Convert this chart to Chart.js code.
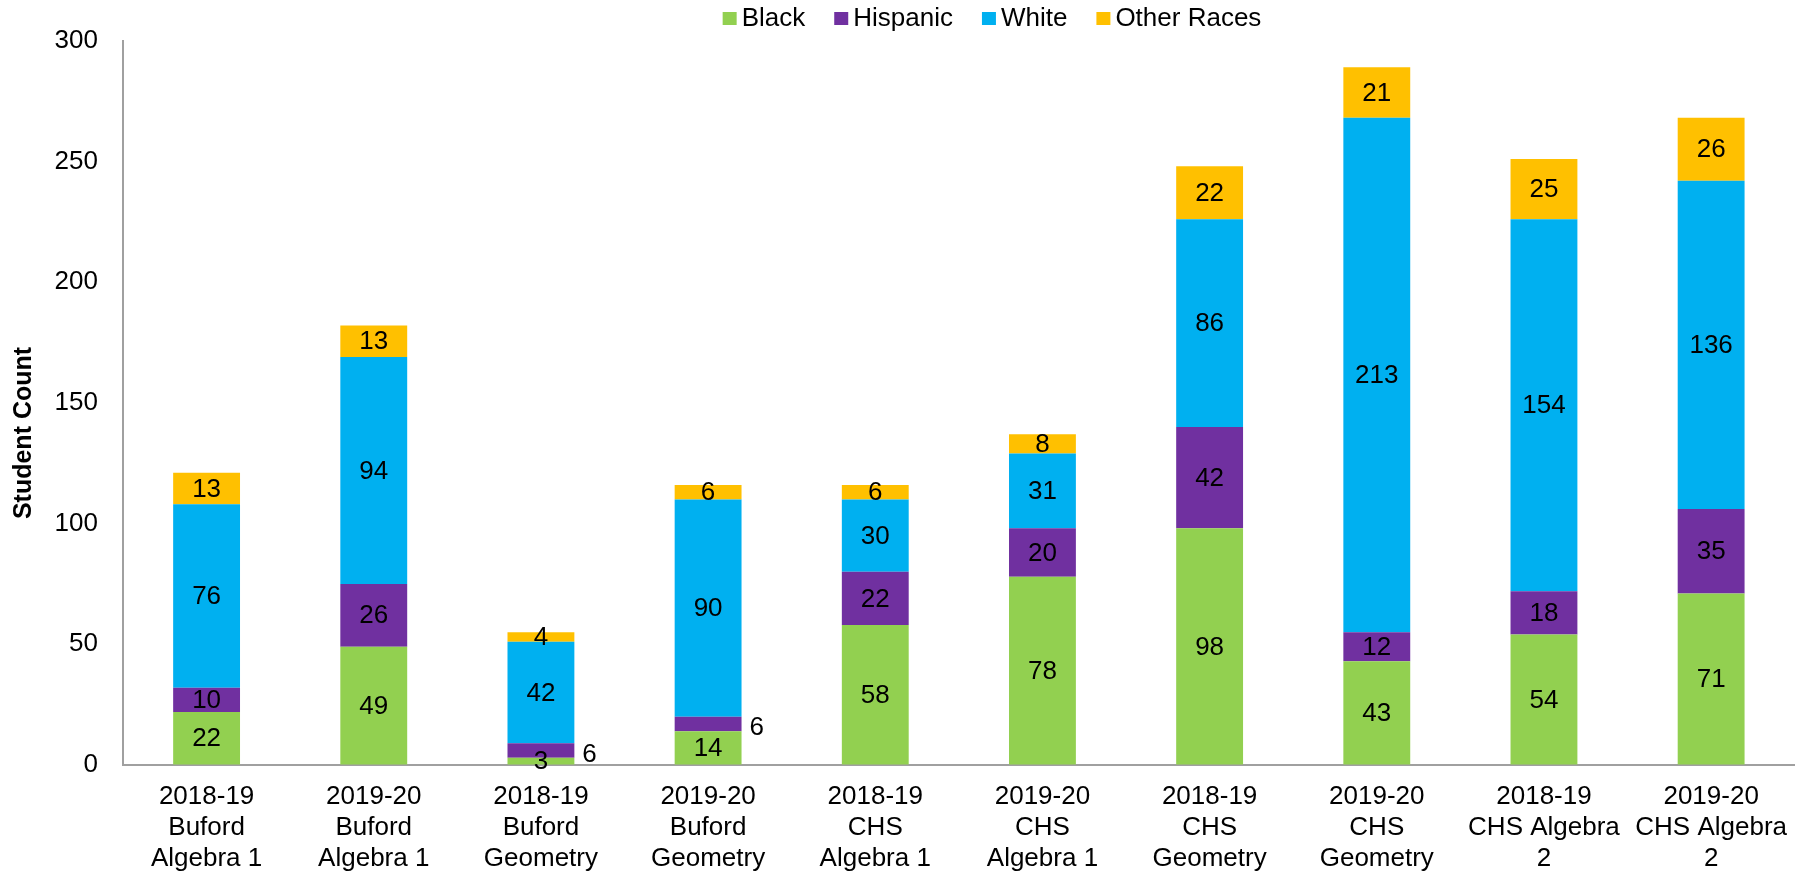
<!DOCTYPE html>
<html>
<head>
<meta charset="utf-8">
<title>Student Count</title>
<script src="https://cdn.jsdelivr.net/npm/chart.js@4.4.1/dist/chart.umd.min.js"></script>
<style>
  html, body { margin: 0; padding: 0; background: #fff; }
  #wrap { width: 1803px; height: 872px; }
</style>
</head>
<body>
<div id="wrap"><canvas id="chart" width="1803" height="872"></canvas></div>
<script>
var categories = [
  ["2018-19", "Buford", "Algebra 1"],
  ["2019-20", "Buford", "Algebra 1"],
  ["2018-19", "Buford", "Geometry"],
  ["2019-20", "Buford", "Geometry"],
  ["2018-19", "CHS", "Algebra 1"],
  ["2019-20", "CHS", "Algebra 1"],
  ["2018-19", "CHS", "Geometry"],
  ["2019-20", "CHS", "Geometry"],
  ["2018-19", "CHS Algebra", "2"],
  ["2019-20", "CHS Algebra", "2"]
];
var black    = [22, 49, 3, 14, 58, 78, 98, 43, 54, 71];
var hispanic = [10, 26, 6, 6, 22, 20, 42, 12, 18, 35];
var white    = [76, 94, 42, 90, 30, 31, 86, 213, 154, 136];
var other    = [13, 13, 4, 6, 6, 8, 22, 21, 25, 26];
var yMax = 300;
var yStep = 50;

var FONT = "'Liberation Sans', Arial, sans-serif";

// numbers inside each stacked segment (tiny Hispanic ones go beside the bar)
var segmentLabels = {
  id: "segmentLabels",
  afterDatasetsDraw: function(chart) {
    var ctx = chart.ctx;
    ctx.save();
    ctx.font = "26px " + FONT;
    ctx.fillStyle = "#000";
    ctx.textBaseline = "middle";
    chart.data.datasets.forEach(function(ds, i) {
      var meta = chart.getDatasetMeta(i);
      meta.data.forEach(function(bar, j) {
        var v = ds.data[j];
        var p = bar.getProps(["x", "y", "base", "width"], true);
        var cy = (p.y + p.base) / 2;
        if (ds.label === "Hispanic" && v < 10) {
          ctx.textAlign = "left";
          ctx.fillText(String(v), p.x + p.width / 2 + 8, cy + 4);
        } else {
          ctx.textAlign = "center";
          ctx.fillText(String(v), p.x, cy + 1);
        }
      });
    });
    ctx.restore();
  }
};

// legend row along the top plus the rotated axis title
var decorations = {
  id: "decorations",
  afterDraw: function(chart) {
    var ctx = chart.ctx;
    var ds = chart.data.datasets;
    ctx.save();
    ctx.font = "26px " + FONT;
    ctx.textBaseline = "middle";
    ctx.textAlign = "left";
    var box = 14, gap = 5, spacing = 29;
    var total = 0;
    ds.forEach(function(d, i) {
      total += box + gap + ctx.measureText(d.label).width;
      if (i < ds.length - 1) total += spacing;
    });
    var x = 992 - total / 2;
    var cy = 19;
    ds.forEach(function(d) {
      ctx.fillStyle = d.backgroundColor;
      ctx.fillRect(x, cy - 7, box, 13);
      x += box + gap;
      ctx.fillStyle = "#000";
      ctx.fillText(d.label, x, cy);
      x += ctx.measureText(d.label).width + spacing;
    });

    ctx.translate(24, 433);
    ctx.rotate(-Math.PI / 2);
    ctx.font = "bold 25px " + FONT;
    ctx.textAlign = "center";
    ctx.fillText("Student Count", 0, 0);
    ctx.restore();
  }
};

new Chart(document.getElementById("chart"), {
  type: "bar",
  data: {
    labels: categories,
    datasets: [
      { label: "Black", data: black, backgroundColor: "#92D050" },
      { label: "Hispanic", data: hispanic, backgroundColor: "#7030A0" },
      { label: "White", data: white, backgroundColor: "#00B0F0" },
      { label: "Other Races", data: other, backgroundColor: "#FFC000" }
    ]
  },
  options: {
    responsive: false,
    animation: false,
    layout: { padding: { top: 39, right: 0, left: 0, bottom: 0 } },
    datasets: {
      bar: { categoryPercentage: 1, barPercentage: 0.4, borderWidth: 0 }
    },
    plugins: {
      legend: { display: false },
      tooltip: { enabled: false }
    },
    scales: {
      x: {
        stacked: true,
        grid: { drawOnChartArea: false, drawTicks: false },
        border: { display: true, color: "#a0a0a0", width: 2 },
        ticks: {
          color: "#000",
          padding: 16,
          maxRotation: 0,
          autoSkip: false,
          font: { family: FONT, size: 26, lineHeight: 1.2 }
        },
        afterFit: function(scale) { scale.height = 107; }
      },
      y: {
        stacked: true,
        min: 0,
        max: yMax,
        grid: { drawOnChartArea: false, drawTicks: false },
        border: { display: true, color: "#a0a0a0", width: 2 },
        ticks: {
          stepSize: yStep,
          color: "#000",
          padding: 25,
          font: { family: FONT, size: 26 }
        },
        afterFit: function(scale) { scale.width = 123; }
      }
    }
  },
  plugins: [segmentLabels, decorations]
});
</script>
</body>
</html>
